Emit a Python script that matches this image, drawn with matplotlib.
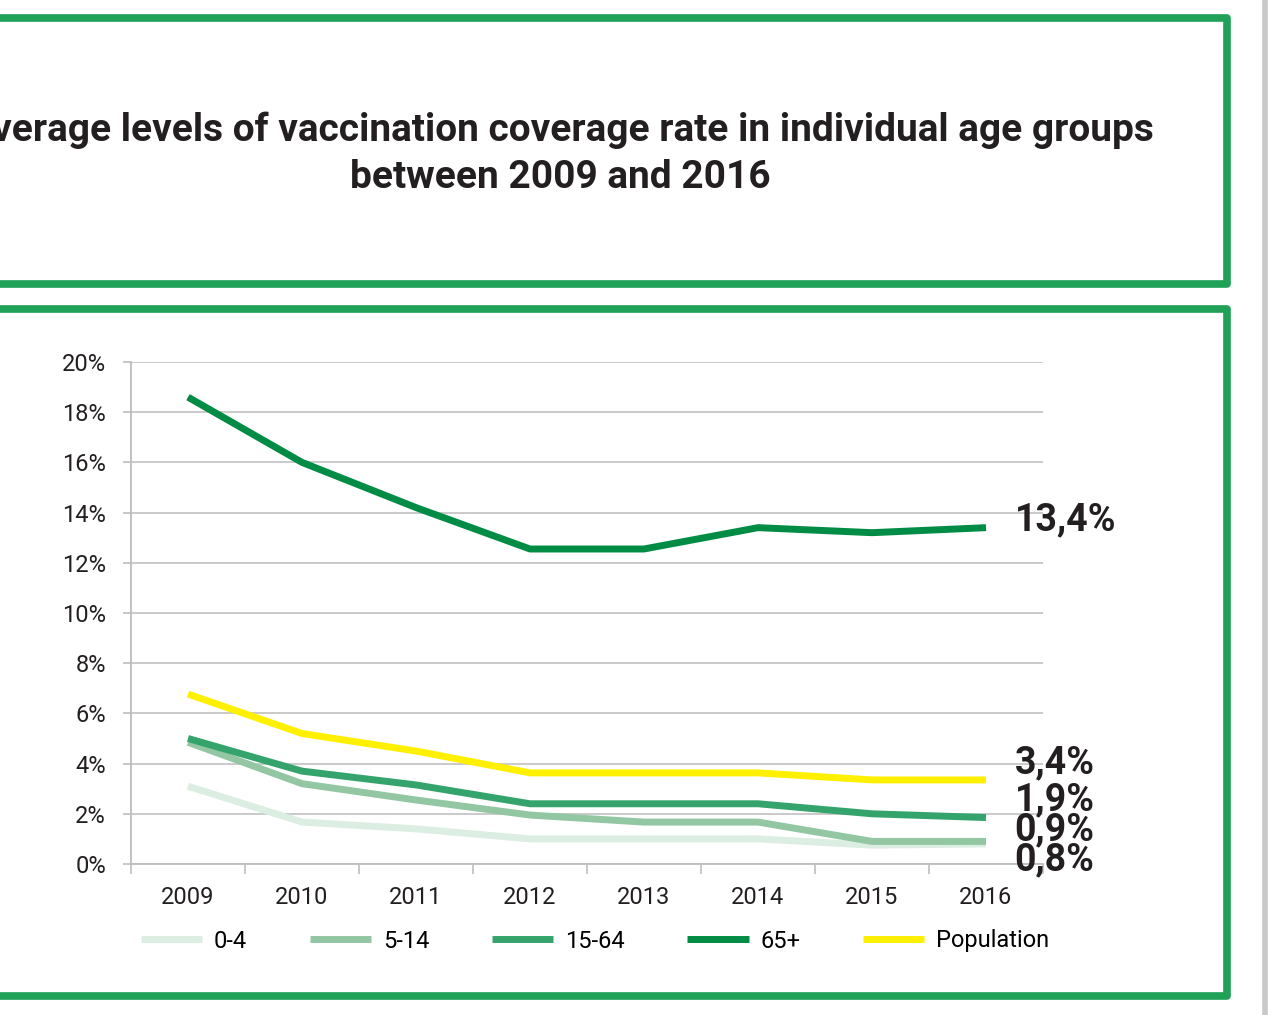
import matplotlib.pyplot as plt
from matplotlib.patches import Rectangle
from matplotlib.lines import Line2D

plt.rcParams['font.family'] = ['Roboto', 'DejaVu Sans']

years = ['2009', '2010', '2011', '2012', '2013', '2014', '2015', '2016']
age_0_4 = [3.1, 1.67, 1.4, 1.0, 1.0, 1.0, 0.75, 0.8]
age_5_14 = [4.85, 3.2, 2.55, 1.95, 1.67, 1.67, 0.9, 0.9]
age_15_64 = [5.0, 3.7, 3.15, 2.4, 2.4, 2.4, 2.0, 1.85]
age_65 = [18.6, 16.0, 14.2, 12.55, 12.55, 13.4, 13.2, 13.4]
population = [6.77, 5.2, 4.5, 3.63, 3.63, 3.63, 3.35, 3.35]
series_names = ['0-4', '5-14', '15-64', '65+', 'Population']
end_labels = ['0,8%', '0,9%', '1,9%', '13,4%', '3,4%']

colors = ['#dcede2', '#93c6a2', '#34a46c', '#008c44', '#fff000']
# label y positions (dodged so they don't overlap)
label_y = [0.15, 1.35, 2.55, 13.7, 4.05]

fig = plt.figure(figsize=(12.7, 10.15), dpi=100)
W, H = 1270, 1015
green = '#1fa158'

def box(x0, y0, x1, y1):
    fig.patches.append(Rectangle((x0 / W, 1 - y1 / H), (x1 - x0) / W, (y1 - y0) / H,
                                 transform=fig.transFigure, fill=False,
                                 edgecolor=green, linewidth=5.5, joinstyle='round'))

box(-20, 18, 1227, 284)
box(-20, 309, 1227, 996)
fig.lines.append(Line2D([1265 / W, 1265 / W], [0, 1], transform=fig.transFigure,
                        color='#c9c9c9', linewidth=4))

fig.text(560 / W, 1 - 130 / H,
         'Average levels of vaccination coverage rate in individual age groups',
         ha='center', va='center', fontsize=28, fontweight='bold', color='#231f20')
fig.text(560 / W, 1 - 177 / H, 'between 2009 and 2016',
         ha='center', va='center', fontsize=28, fontweight='bold', color='#231f20')

ax = fig.add_axes([131 / W, 1 - 864 / H, (1043 - 131) / W, (864 - 362) / H])
x = list(range(len(years)))
all_series = [age_0_4, age_5_14, age_15_64, age_65, population]
for vals, name, c in zip(all_series, series_names, colors):
    ax.plot(x, vals, color=c, linewidth=5, label=name, solid_capstyle='butt')

for lab, ly in zip(end_labels, label_y):
    ax.text(7.25, ly, lab, ha='left', va='center', fontsize=27,
            fontweight='bold', color='#231f20', clip_on=False)

ax.set_xlim(-0.5, 7.5)
ax.set_ylim(0, 20)
ax.set_yticks(range(0, 21, 2))
ax.set_yticklabels([f'{v}%' for v in range(0, 21, 2)])
ax.set_xticks(x)
ax.set_xticklabels(years)
ax.set_xticks([i - 0.5 for i in range(len(years) + 1)], minor=True)
ax.tick_params(axis='x', which='major', length=0, pad=16, labelsize=17, colors='#231f20')
ax.tick_params(axis='x', which='minor', length=7, width=1.2, color='#bdbdbd')
ax.tick_params(axis='y', length=6, width=1.2, color='#bdbdbd', labelsize=17,
               labelcolor='#231f20', pad=12)
ax.grid(axis='y', color='#c6c6c6', linewidth=1.3)
ax.set_axisbelow(True)
for s in ['top', 'right']:
    ax.spines[s].set_visible(False)
for s in ['left', 'bottom']:
    ax.spines[s].set_color('#bdbdbd')
    ax.spines[s].set_linewidth(1.3)

ax.legend(loc='center', bbox_to_anchor=(595 / W, 1 - 941 / H), bbox_transform=fig.transFigure,
          ncol=5, frameon=False, fontsize=17, handlelength=2.6, columnspacing=2.65,
          handletextpad=0.5)

fig.savefig('out.png', dpi=100)
